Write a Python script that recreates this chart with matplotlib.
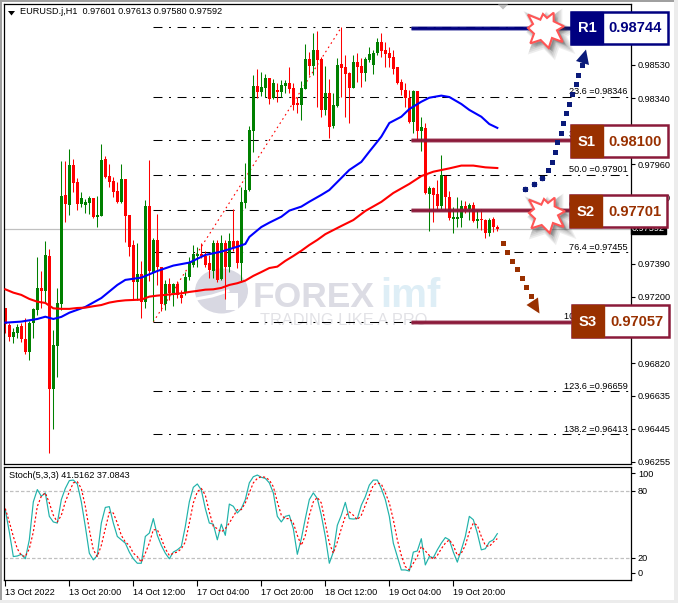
"""EURUSD H1 chart with fibo levels, support/resistance boxes and stochastic."""
import numpy as np
import matplotlib
matplotlib.use("Agg")
import matplotlib.pyplot as plt
from matplotlib.patches import Polygon, Rectangle, Ellipse

# prices in points (1/100000)
opens = [97137, 97040, 96971, 96994, 97034, 96960, 96885, 97051, 97126, 97252, 97235, 97435, 96673, 96919, 97160,
         97785, 97727, 97957, 97859, 97733, 97727, 97739, 97767, 97659, 97664, 97991, 97893, 97865, 97808, 97745,
         97876, 97670, 97498, 97286, 97332, 97172, 97722, 97343, 97527, 97372, 97160, 97275, 97223, 97275, 97212,
         97223, 97315, 97384, 97435, 97447, 97435, 97395, 97349, 97510, 97303, 97510, 97372, 97521, 97521, 97395,
         97739, 97813, 98151, 98409, 98375, 98398, 98455, 98340, 98386, 98375, 98409, 98426, 98398, 98312, 98300,
         98392, 98564, 98524, 98616, 98564, 98272, 98369, 98180, 98295, 98535, 98518, 98484, 98398, 98547, 98524,
         98484, 98558, 98530, 98598, 98661, 98616, 98598, 98575, 98518, 98432, 98386, 98340, 98203, 98381, 98151,
         98169, 97790, 97825, 97790, 97722, 97893, 97773, 97647, 97647, 97653, 97722, 97704, 97727, 97636, 97647,
         97641, 97567, 97647, 97601]
highs = [97137, 97051, 97023, 97046, 97051, 97080, 97063, 97137, 97429, 97349, 97521, 97475, 97011, 97252, 97979,
         97979, 98048, 97991, 97882, 97802, 97762, 97779, 97767, 97779, 98077, 98008, 97962, 97888, 97859, 97962,
         97876, 97670, 97527, 97510, 97407, 97756, 97985, 97538, 97676, 97372, 97298, 97309, 97280, 97292, 97240,
         97343, 97429, 97498, 97487, 97510, 97464, 97441, 97527, 97527, 97556, 97527, 97567, 97704, 97527, 97830,
         97968, 98180, 98472, 98507, 98489, 98478, 98455, 98449, 98426, 98444, 98444, 98518, 98426, 98346, 98438,
         98650, 98604, 98713, 98724, 98575, 98524, 98449, 98369, 98570, 98747, 98587, 98489, 98587, 98598, 98570,
         98575, 98633, 98616, 98684, 98713, 98661, 98633, 98616, 98518, 98449, 98426, 98386, 98386, 98381, 98232,
         98197, 97836, 97830, 97871, 98014, 97899, 97808, 97716, 97773, 97756, 97750, 97739, 97745, 97699, 97704,
         97647, 97653, 97659, 97613]
lows = [96994, 96948, 96937, 96965, 96942, 96874, 96839, 96965, 97097, 97137, 97166, 96306, 96444, 96742, 97126,
        97630, 97670, 97802, 97699, 97716, 97681, 97676, 97653, 97601, 97664, 97882, 97830, 97773, 97739, 97739,
        97515, 97435, 97189, 97183, 97080, 97137, 97292, 97063, 97269, 97120, 97126, 97183, 97149, 97194, 97166,
        97212, 97298, 97372, 97372, 97424, 97372, 97309, 97309, 97286, 97298, 97189, 97343, 97464, 97366, 97286,
        97710, 97808, 98031, 98340, 98352, 98346, 98306, 98335, 98318, 98346, 98369, 98369, 98272, 98254, 98214,
        98392, 98472, 98472, 98289, 98232, 98243, 98111, 98169, 98289, 98346, 98232, 98197, 98398, 98432, 98403,
        98438, 98547, 98478, 98587, 98575, 98518, 98518, 98478, 98421, 98358, 98289, 98197, 98140, 98100, 98037,
        97790, 97578, 97630, 97704, 97704, 97699, 97641, 97567, 97601, 97601, 97681, 97641, 97630, 97596, 97584,
        97538, 97550, 97573, 97580]
closes = [97046, 96971, 97000, 97028, 96960, 96885, 97051, 97132, 97252, 97235, 97441, 96673, 96925, 97166, 97779,
          97733, 97957, 97853, 97733, 97767, 97745, 97767, 97659, 97670, 97985, 97888, 97859, 97802, 97745, 97876,
          97664, 97487, 97286, 97332, 97172, 97722, 97349, 97527, 97372, 97160, 97275, 97223, 97275, 97212, 97194,
          97315, 97395, 97447, 97447, 97435, 97384, 97355, 97510, 97298, 97510, 97372, 97521, 97481, 97395, 97745,
          97813, 98157, 98409, 98375, 98403, 98455, 98335, 98426, 98375, 98415, 98426, 98392, 98300, 98300, 98398,
          98564, 98524, 98616, 98558, 98272, 98369, 98174, 98300, 98530, 98512, 98478, 98398, 98547, 98518, 98484,
          98564, 98593, 98598, 98661, 98610, 98593, 98570, 98507, 98426, 98386, 98340, 98203, 98381, 98151, 98174,
          97796, 97825, 97785, 97722, 97899, 97773, 97653, 97659, 97659, 97722, 97704, 97727, 97636, 97647, 97641,
          97567, 97641, 97601, 97592]

blue_bars = [0, 4, 8, 10, 12, 14, 16, 20, 24, 28, 30, 34, 38, 42, 46, 50, 54, 58, 60, 61, 64, 66, 69, 71, 74, 76, 79,
             81, 84, 86, 89, 91, 94, 96, 99, 101, 104, 106, 109, 111, 114, 116, 119, 121, 123]
blue_ma = [97053, 97059, 97074, 97087, 97074, 97086, 97110, 97143, 97194, 97269, 97298, 97311, 97349, 97380, 97397,
           97441, 97460, 97488, 97504, 97544, 97601, 97626, 97660, 97695, 97718, 97746, 97785, 97813, 97882, 97928,
           97974, 98033, 98119, 98197, 98233, 98277, 98319, 98342, 98354, 98346, 98306, 98272, 98233, 98191, 98169]
red_bars = [0, 2, 4, 6, 8, 10, 12, 14, 16, 18, 20, 22, 24, 26, 28, 30, 32, 34, 36, 38, 40, 42, 44, 46, 48, 50, 52, 54,
            56, 58, 60, 62, 64, 66, 68, 70, 72, 74, 76, 78, 80, 84, 87, 90, 94, 97, 101, 104, 107, 111, 114, 117, 120,
            123]
red_ma = [97244, 97225, 97212, 97189, 97173, 97166, 97135, 97132, 97132, 97137, 97139, 97147, 97154, 97168, 97176,
          97181, 97183, 97185, 97202, 97208, 97212, 97217, 97221, 97229, 97235, 97242, 97244, 97252, 97269, 97279,
          97294, 97321, 97343, 97366, 97374, 97407, 97435, 97465, 97498, 97527, 97560, 97607, 97641, 97693, 97745,
          97796, 97848, 97893, 97918, 97937, 97953, 97953, 97943, 97939]

stoch_main = [62.7, 43, 21, 21.5, 23, 19, 36, 70, 81, 75, 78, 57, 52, 51, 72, 82, 89, 89.5, 86, 70, 48, 24, 18, 22,
              51, 65, 65.7, 51, 39, 36, 33, 25, 19, 15, 15, 39, 42, 55, 40, 31, 24, 19, 25, 27, 30, 48, 70, 83, 86,
              80.6, 64, 51, 50, 36, 50, 40, 68, 66, 60, 64, 72, 87, 92.5, 94, 92, 91, 87, 78, 57, 52, 57, 58, 46, 23,
              37, 55, 72, 78, 73, 58, 39, 15, 25, 49, 58, 69.5, 55, 54.6, 55, 67, 74.6, 85, 89.5, 89.5, 82, 72, 57,
              33, 21, 9, 9, 8, 25, 26, 37, 13.5, 21, 20, 27, 33, 38, 36, 25, 16, 27, 39, 57, 54, 42, 27, 28, 34, 36,
              41.5]
stoch_signal = [64, 52, 39, 28, 22, 21, 28, 43, 66, 75, 78, 69, 58, 52, 58, 70, 79, 87, 88, 82, 66, 45, 27, 21, 31,
                46, 60.6, 60, 51, 40, 34, 31, 24, 21, 16, 24, 33, 45, 45, 37, 28, 22, 24, 25, 28, 34, 51, 69, 79, 82,
                76, 61, 48, 46, 43, 46, 51, 57, 63, 63, 69, 78, 87, 91, 92.5, 92, 89.5, 83.6, 70, 58, 55, 55, 51, 40,
                31, 40, 58, 70, 74, 69, 51, 33, 24, 34, 46, 57, 61, 58, 54, 58, 67, 76, 85, 87, 86, 78, 69, 54, 36,
                22, 12, 9, 15, 21, 30, 26, 22, 18.5, 22, 28, 33, 36, 31, 22, 24, 31, 43, 51, 49, 39, 31, 30, 34, 37.1]

fibo_levels = [0.98745, 0.98346, 0.98100, 0.97901, 0.97701, 0.97455, 0.97057, 0.96659, 0.96413]
fibo_names = ["", "23.6", "38.2", "50.0", "61.8", "76.4", "100.0", "123.6", "138.2"]

price_ticks = [0.98530, 0.98340, 0.97960, 0.97770, 0.97390, 0.97200, 0.96820, 0.96635, 0.96445, 0.96255]
date_bars = [0, 16, 32, 48, 64, 80, 96, 112]
date_labels = ["13 Oct 2022", "13 Oct 20:00", "14 Oct 12:00", "17 Oct 04:00", "17 Oct 20:00", "18 Oct 12:00",
               "19 Oct 04:00", "19 Oct 20:00"]
last_price = 0.97592

# name, price, colour of the level boxes
levels = [("R1", 0.98744, "#000080"), ("S1", 0.98100, "#8b1a3a"), ("S2", 0.97701, "#8b1a3a"), ("S3", 0.97057, "#8b1a3a")]

W, H = 678, 603
TXT = "Liberation Sans"
TS = 6.6


def px_axes(fig, z):
    a = fig.add_axes([0, 0, 1, 1], zorder=z)
    a.set_xlim(0, W)
    a.set_ylim(H, 0)
    a.axis("off")
    a.patch.set_alpha(0)
    return a


def star(ax, cx, cy):
    pts = np.array([(88, 90), (125, 105), (133, 88), (145, 100), (165, 84), (165, 110), (196, 125), (175, 137),
                    (192, 172), (160, 160), (150, 190), (126, 166), (95, 176), (106, 147), (88, 130), (103, 118)],
                   dtype=float)
    pts = (pts - [145, 130]) / 3 + [cx, cy]
    for k in range(5, 0, -1):
        ax.add_patch(Polygon(pts + [1 + k * 0.7, 1 + k * 0.7], closed=True, fc="#404040", ec="#404040", lw=k * 1.2,
                             alpha=0.09))
    ax.add_patch(Polygon(pts, closed=True, fc="white", ec="#ff5555", lw=1.5))


def level_box(ax, name, x, y, value, fill, edge):
    ax.add_patch(Rectangle((x, y), 97, 32, fc="white", ec=edge, lw=1.8))
    ax.add_patch(Rectangle((x, y), 32, 32, fc=fill, ec=fill, lw=1))
    ax.text(x + 16, y + 16.5, name, color="white", fontsize=10.6, fontweight="bold", family=TXT, ha="center",
            va="center")
    ax.text(x + 64.5, y + 16.5, value, color=fill, fontsize=10.6, fontweight="bold", family=TXT, ha="center",
            va="center")


fig = plt.figure(figsize=(W / 100, H / 100), dpi=100, facecolor="white")
back = px_axes(fig, 0)
top = px_axes(fig, 3)

# watermark under the candles
back.add_patch(Ellipse((221.5, 291), 53, 45, fc="#d8d8e2", ec="none"))
back.plot([196, 212, 228], [299, 296, 291], color="white", lw=2.2)
back.add_patch(Rectangle((226, 293), 12, 17, fc="white", ec="none"))
back.text(253, 307, "FOREX", color="#dcdce4", fontsize=25.5, fontweight="bold", family=TXT, ha="left", va="baseline")
back.text(380, 307, "imf", color="#deeef6", fontsize=29, fontweight="bold", family=TXT, ha="left", va="baseline")
back.text(260, 325, "TRADING LIKE A PRO", color="#e2e2e6", fontsize=11.8, family=TXT, ha="left", va="baseline")

ax = fig.add_axes([4 / W, 1 - 464 / H, 627 / W, 460 / H], zorder=1)
ax.patch.set_alpha(0)
sub = fig.add_axes([4 / W, 1 - 580 / H, 627 / W, 113 / H], zorder=1, facecolor="white")

op = np.array(opens) / 1e5
hi = np.array(highs) / 1e5
lo = np.array(lows) / 1e5
cl = np.array(closes) / 1e5
bars = np.arange(len(op))
up = cl >= op
col = np.where(up, "#008000", "#ff0000")

ax.axhline(last_price, color="#c0c0c0", lw=0.9, zorder=1)
for lev, nm in zip(fibo_levels, fibo_names):
    ax.plot([37, 156], [lev, lev], color="black", lw=0.75, ls=(0, (8.6, 6.3, 1.9, 6.3)), zorder=1.5)
    if nm:
        ax.text(155.6, lev + 0.00004, f"{nm} ={lev:.5f}", fontsize=TS, family=TXT, ha="right", va="bottom", zorder=1.5)
ax.plot([37, 84], [fibo_levels[6], fibo_levels[0]], color="#ff0000", lw=0.8, ls=(0, (1.5, 3)), zorder=1.6)

ax.vlines(bars, lo, hi, colors=col, lw=0.75, zorder=2)
ax.bar(bars, np.maximum(np.abs(cl - op), 0.00003), bottom=np.minimum(op, cl), width=0.75, color=col, lw=0, zorder=2.1)
ax.plot(blue_bars, np.array(blue_ma) / 1e5, color="#0000ff", lw=1.5, zorder=3)
ax.plot(red_bars, np.array(red_ma) / 1e5, color="#ff0000", lw=1.5, zorder=3)

ax.set_xlim(-0.33, 156.42)
ax.set_ylim(0.96243, 0.98879)
ax.set_xticks([])
ax.yaxis.tick_right()
ax.set_yticks(price_ticks)
ax.set_yticklabels([f"{t:.5f}" for t in price_ticks], fontsize=TS, family=TXT)
ax.tick_params(axis="y", length=3, width=0.8, pad=2)
for s in ax.spines.values():
    s.set_linewidth(0.9)

ax.text(1.0015, last_price, f"{last_price:.5f}", transform=ax.get_yaxis_transform(), color="white", fontsize=TS,
        family=TXT, va="center", ha="left", bbox=dict(fc="black", ec="black", pad=1), zorder=5, clip_on=False)

ax.text(16 / 627, 1 - 8 / 460, "EURUSD.j,H1  0.97601 0.97613 0.97580 0.97592", transform=ax.transAxes, fontsize=TS,
        family=TXT, va="center", ha="left")
top.add_patch(Polygon([(8, 11), (15, 11), (11.5, 15.5)], closed=True, fc="black", ec="none"))

# stochastic panel
sub.axhline(80, color="#c0c0c0", lw=0.9, ls=(0, (2.8, 1.6)))
sub.axhline(20, color="#c0c0c0", lw=0.9, ls=(0, (2.8, 1.6)))
sub.plot(bars, stoch_main, color="#20b2aa", lw=0.85)
sub.plot(bars, stoch_signal, color="#ff0000", lw=0.85, ls=(0, (1.8, 1.8)))
sub.set_xlim(-0.33, 156.42)
sub.set_ylim(0, 101.2)
sub.yaxis.tick_right()
sub.set_yticks([95.8, 80, 20, 6.3])
sub.set_yticklabels(["100", "80", "20", "0"], fontsize=TS, family=TXT)
sub.set_xticks(date_bars)
sub.set_xticklabels(date_labels, fontsize=TS, family=TXT, ha="left")
sub.tick_params(axis="y", length=3, width=0.8, pad=2)
sub.tick_params(axis="x", length=4, width=0.8, pad=1.5)
for s in sub.spines.values():
    s.set_linewidth(0.9)
sub.text(5 / 627, 1 - 8 / 113, "Stoch(5,3,3) 41.5162 37.0843", transform=sub.transAxes, fontsize=TS, family=TXT,
         va="center", ha="left")

# support / resistance lines over the chart
for name, price, c in levels:
    ax.plot([101.5, 141.5], [price, price], color=c, lw=3.6, alpha=0.4, solid_capstyle="butt", zorder=4)
    ax.plot([101.5, 141.5], [price, price], color=c, lw=2, solid_capstyle="butt", zorder=4.1)

star(top, 547, 28)
star(top, 548, 213)

level_box(top, "R1", 571, 12, "0.98744", "#000080", "#000080")
level_box(top, "S1", 571, 125, "0.98100", "#993000", "#8b1a3a")
level_box(top, "S2", 570, 195, "0.97701", "#993000", "#8b1a3a")
level_box(top, "S3", 572, 305, "0.97057", "#993000", "#8b1a3a")

# dotted arrows
nx = np.array([375, 403, 427, 445, 455, 465, 472, 483, 490, 497, 507, 515, 527, 535, 545]) / 3 + 400
ny = np.array([567, 553, 535, 510, 485, 455, 425, 398, 370, 340, 313, 283, 253, 225, 195]) / 3
top.plot(nx, ny, ls="none", marker="s", ms=3.6, color="#0a1a7a", mew=0)
top.plot(nx[:3], ny[:3], ls="none", marker="o", ms=4, color="#0a1a7a", mew=0)
top.add_patch(Polygon([(586, 49.5), (576, 61), (589, 65)], closed=True, fc="#0a1a7a", ec="none"))
bx = np.array([308, 322, 337, 350, 365, 378, 392]) / 3 + 400
by = np.array([128, 155, 182, 208, 235, 262, 288]) / 3 + 200
top.plot(bx, by, ls="none", marker="s", ms=3.6, color="#993000", mew=0)
top.add_patch(Polygon([(539.5, 313.5), (526.5, 305), (538, 297.5)], closed=True, fc="#993000", ec="none"))

# chart-shift marker and window edges
top.add_patch(Polygon([(498, 4.5), (508, 4.5), (503, 9.5)], closed=True, fc="#c0c0c0", ec="none"))
top.add_patch(Rectangle((0, 0), W, 2, fc="#a0a0a0", ec="none"))
top.add_patch(Rectangle((0, 0), 2, H, fc="#a0a0a0", ec="none"))
top.add_patch(Rectangle((674, 0), 4, H, fc="#ececec", ec="none"))
top.add_patch(Rectangle((0, 600), W, 3, fc="#ececec", ec="none"))

fig.savefig("out.png", dpi=100)
